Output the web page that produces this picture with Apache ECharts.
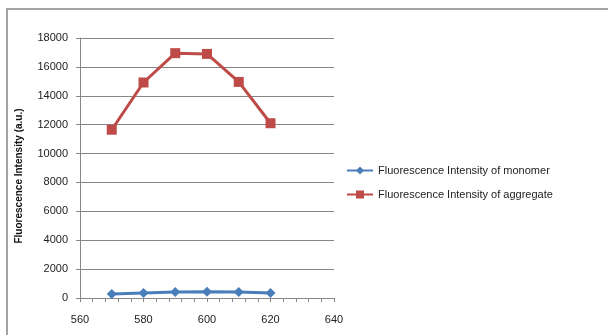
<!DOCTYPE html>
<html><head><meta charset="utf-8">
<script src="https://cdn.jsdelivr.net/npm/echarts@6/dist/echarts.min.js"></script>
<style>html,body{margin:0;padding:0;background:#fff}#c{width:608px;height:335px}</style>
</head><body><div id="c"></div>
<script>
const wavelengths = [570, 580, 590, 600, 610, 620];
const monomer = [280, 350, 415, 435, 415, 350];
const aggregate = [11650, 14920, 16950, 16900, 14960, 12100];
const seriesNames = ['Fluorescence Intensity of monomer', 'Fluorescence Intensity of aggregate'];
const yTitle = 'Fluorescence Intensity (a.u.)';

const chart = echarts.init(document.getElementById('c'), null, {renderer: 'canvas'});
const font = 'Liberation Sans, Arial, sans-serif';
chart.setOption({
  animation: false,
  backgroundColor: '#fff',
  graphic: [{type: 'rect', shape: {x: 7, y: 9, width: 700, height: 400}, style: {fill: 'none', stroke: '#868686', lineWidth: 1.5}, z: 100}],
  grid: {left: 80, top: 38, right: 274, bottom: 37, containLabel: false},
  legend: {
    orient: 'vertical', left: 346, top: 165, padding: 0, itemWidth: 26, itemHeight: 10, itemGap: 13,
    textStyle: {fontFamily: font, fontSize: 11, color: '#222'},
    data: seriesNames
  },
  xAxis: {
    type: 'value', min: 560, max: 640, interval: 20,
    axisLine: {show: true, lineStyle: {color: '#868686', width: 1}},
    axisTick: {show: true, inside: false, length: 4, lineStyle: {color: '#868686'}},
    minorTick: {show: true, splitNumber: 5, length: 4, lineStyle: {color: '#868686'}},
    splitLine: {show: false},
    axisLabel: {fontFamily: font, fontSize: 11, color: '#222', margin: 16}
  },
  yAxis: {
    type: 'value', min: 0, max: 18000, interval: 2000,
    name: yTitle, nameLocation: 'middle', nameGap: 56, nameRotate: 90,
    nameTextStyle: {fontFamily: font, fontSize: 10, fontWeight: 'bold', color: '#111', padding: [0, 16, 0, 0]},
    axisLine: {show: true, lineStyle: {color: '#868686', width: 1}},
    axisTick: {show: true, inside: false, length: 4, lineStyle: {color: '#868686'}},
    splitLine: {show: true, lineStyle: {color: '#868686', width: 1}},
    axisLabel: {fontFamily: font, fontSize: 11, color: '#222', margin: 12, formatter: v => String(v)}
  },
  series: [
    {
      name: seriesNames[0], type: 'line', data: wavelengths.map((x, i) => [x, monomer[i]]),
      symbol: 'diamond', symbolSize: 10, showAllSymbol: true,
      lineStyle: {color: '#4a7ebb', width: 3}, itemStyle: {color: '#4a7ebb'}, color: '#4a7ebb'
    },
    {
      name: seriesNames[1], type: 'line', data: wavelengths.map((x, i) => [x, aggregate[i]]),
      symbol: 'rect', symbolSize: 10, showAllSymbol: true,
      lineStyle: {color: '#be4b48', width: 3}, itemStyle: {color: '#be4b48'}, color: '#be4b48'
    }
  ]
});
</script></body></html>
